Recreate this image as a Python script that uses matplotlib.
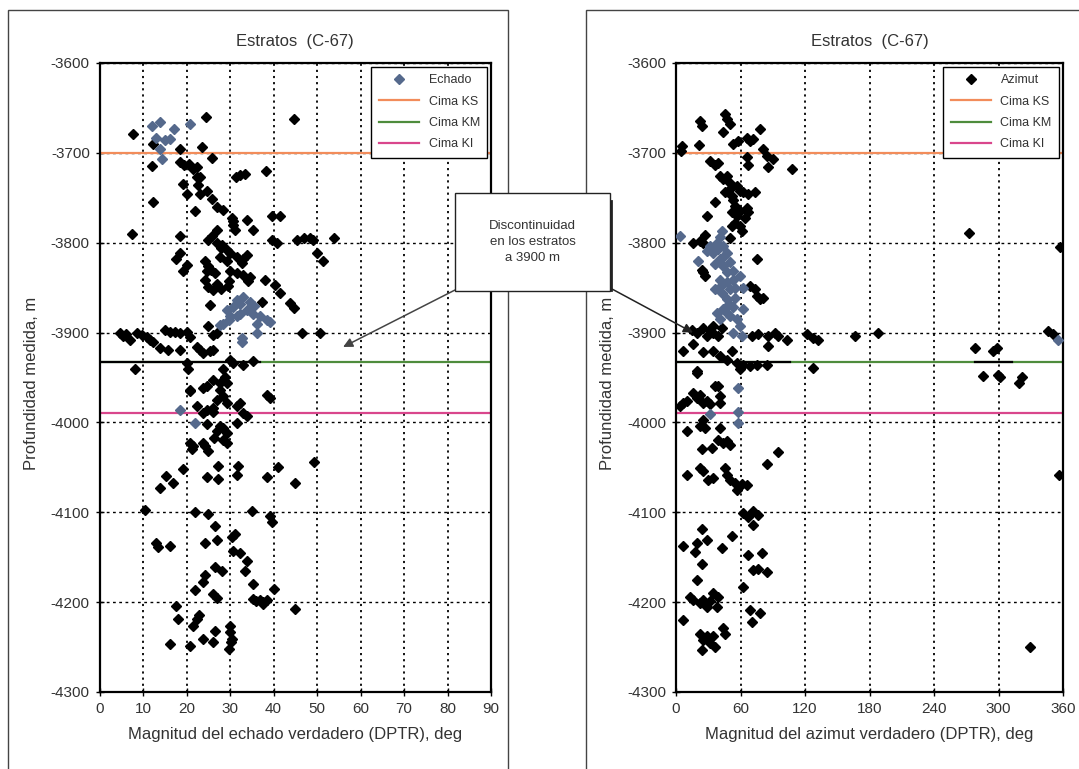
import matplotlib
matplotlib.use("Agg")
import matplotlib.pyplot as plt
from matplotlib.lines import Line2D
from matplotlib.patches import Rectangle

plt.rcParams["font.family"] = ["Liberation Sans", "DejaVu Sans"]
plt.rcParams["axes.unicode_minus"] = False

TEXT = "#333333"
BLUE = "#55698c"
KS_COLOR = "#f28c5a"
KM_COLOR = "#4e8c3c"
KI_COLOR = "#d9468c"

# Formation tops (m)
tops_names = ["Cima KS", "Cima KM", "Cima KI"]
tops_depth = [-3700, -3933, -3990]

# ---------------------------------------------------------------------------
# Dip magnitude (deg) vs measured depth (m)
# ---------------------------------------------------------------------------
dip_hl_x = [12.0, 13.9, 17.1, 13.1, 15.1, 16.2, 13.9, 14.3, 20.8,
            29.2, 30.8, 32.3, 33.1, 34.6, 33.8, 35.4, 36.9, 38.4, 39.2, 30.0,
            28.5, 27.7, 31.5, 32.3, 36.1, 32.7, 32.7, 36.1, 35.5, 31.5, 29.8,
            18.5, 22.0]
dip_hl_y = [-3670, -3666, -3673, -3683, -3686, -3685, -3696, -3707, -3668,
            -3875, -3871, -3868, -3860, -3866, -3875, -3879, -3882, -3886, -3888, -3882,
            -3890, -3892, -3882, -3879, -3890, -3906, -3910, -3900, -3870, -3864, -3886,
            -3986, -4001]

dip_x = [7.7, 12.4, 24.5, 23.5, 18.5, 25.8, 12.0, 18.5, 19.5, 20.5, 21.5, 22.4,
         23.1, 31.3, 32.3, 33.4, 38.2, 44.6,
         12.4, 7.4, 19.3, 20.0, 22.3, 22.7, 23.1, 24.6, 25.8, 26.9, 28.5, 22.0,
         30.4, 30.8, 31.1, 30.6, 33.8, 35.4, 39.6, 41.5, 26.9, 25.0, 25.8, 18.5,
         18.5, 17.7, 20.0, 19.3,
         26.9, 28.1, 29.2, 28.0,
         24.3, 25.0, 25.6, 26.6, 24.8,
         30.0, 31.5, 33.8, 32.7, 33.0,
         27.7, 29.2, 30.0,
         31.5, 33.0, 34.6, 34.2,
         24.3, 25.0, 26.0, 27.0, 28.0, 29.5, 29.8,
         38.0, 40.3, 41.5, 43.8, 44.6,
         25.4, 37.3,
         49.9, 51.4, 45.3, 46.9, 48.4, 49.1, 53.8,
         39.6, 40.7,
         4.7, 5.5, 6.2, 7.0, 8.6, 9.7, 10.9, 11.6, 12.4, 13.9, 15.8, 18.5,
         15.1, 16.2, 17.4, 18.5, 20.0, 20.8,
         22.3, 23.1, 23.9, 25.4, 26.2, 25.0, 26.2, 26.9,
         46.5, 50.7, 8.2,
         20.0, 20.4, 30.8, 33.0, 35.4, 30.0, 28.5, 27.7, 29.2, 28.8, 26.2, 24.6,
         23.9, 20.8,
         38.4, 39.2, 28.5, 29.2, 31.5, 33.0, 33.8,
         22.3, 23.9, 24.6, 26.2,
         24.6, 27.7, 29.2, 28.5, 20.8, 23.9,
         27.7, 26.9, 20.8, 32.3, 26.2, 26.9, 28.5, 31.5, 26.4, 29.2,
         21.2, 21.6, 24.3, 25.0,
         19.3, 27.3, 31.9, 31.5, 41.1, 38.4, 49.2, 44.9, 24.6, 27.3, 15.4, 17.0, 13.9,
         10.5, 22.0, 25.0, 35.0, 39.2, 39.6, 26.6,
         13.1, 13.5, 16.2, 24.3, 26.9, 31.1, 30.4, 30.8, 32.3, 33.8, 33.4, 26.6,
         28.1, 24.3, 23.9, 21.9, 35.4, 26.1, 26.9, 40.0,
         35.3, 36.0, 36.8, 37.6, 38.4, 37.6, 44.9,
         17.7, 18.1, 22.3, 21.5, 22.8, 16.2, 20.8, 23.8, 26.2, 26.6, 30.0, 30.4,
         30.0, 29.8, 30.2]
dip_y = [-3679, -3690, -3660, -3693, -3696, -3706, -3715, -3710, -3714, -3712, -3718, -3716,
         -3727, -3727, -3725, -3723, -3720, -3662,
         -3755, -3790, -3735, -3746, -3727, -3736, -3746, -3742, -3751, -3760, -3764, -3765,
         -3772, -3780, -3786, -3776, -3775, -3786, -3770, -3770, -3786, -3797, -3792, -3792,
         -3812, -3818, -3825, -3831,
         -3800, -3802, -3808, -3806,
         -3820, -3826, -3830, -3834, -3832,
         -3812, -3816, -3814, -3823, -3818,
         -3816, -3820, -3831,
         -3834, -3836, -3838, -3843,
         -3842, -3849, -3853, -3846, -3852, -3848, -3843,
         -3842, -3847, -3856, -3867, -3873,
         -3869, -3866,
         -3812, -3820, -3797, -3795, -3795, -3797, -3795,
         -3797, -3800,
         -3900, -3904, -3902, -3908, -3901, -3903, -3905, -3908, -3910, -3917, -3919, -3919,
         -3897, -3899, -3899, -3901, -3899, -3905,
         -3916, -3919, -3923, -3921, -3919, -3893, -3903, -3901,
         -3901, -3901, -3941,
         -3934, -3941, -3934, -3936, -3932, -3930, -3941, -3956, -3956, -3949, -3953, -3960,
         -3962, -3964,
         -3969, -3973, -3971, -3978, -3982, -3990, -3993,
         -3982, -3990, -3986, -3984,
         -4002, -4004, -4012, -4019, -4023, -4023,
         -3964, -3975, -3965, -3978, -3988, -4010, -4006, -4001, -4017, -4023,
         -4030, -4026, -4026, -4032,
         -4052, -4048, -4049, -4058, -4050, -4061, -4044, -4067, -4061, -4063, -4060, -4067, -4073,
         -4097, -4100, -4102, -4099, -4104, -4111, -4115,
         -4134, -4139, -4137, -4134, -4131, -4124, -4128, -4143, -4145, -4154, -4165, -4161,
         -4165, -4170, -4178, -4187, -4180, -4191, -4195, -4185,
         -4197, -4199, -4198, -4200, -4198, -4202, -4208,
         -4204, -4219, -4219, -4226, -4214, -4247, -4249, -4241, -4244, -4232, -4233, -4241,
         -4226, -4252, -4244]

# ---------------------------------------------------------------------------
# Azimuth (deg) vs measured depth (m)
# ---------------------------------------------------------------------------
azi_hl_x = [3.7, 42.5, 40.9, 37.8, 31.6, 28.6, 34.7, 39.4, 44.0, 47.1, 40.9, 36.3,
            44.0, 50.2, 47.1, 53.3, 40.9, 47.1, 53.3, 59.5, 36.3, 42.5, 50.2, 54.9,
            47.1, 53.3, 44.0, 37.8, 50.2, 56.5, 59.5, 53.3, 61.1, 40.9, 47.1, 20.8,
            62.6, 62.6, 45.0, 49.0, 55.0, 43.0,
            58.0, 58.0, 58.0, 31.6, 355.6]
azi_hl_y = [-3793, -3787, -3794, -3800, -3804, -3809, -3811, -3807, -3804, -3811, -3818, -3824,
            -3826, -3822, -3833, -3832, -3841, -3844, -3841, -3837, -3852, -3856, -3852, -3850,
            -3863, -3871, -3874, -3878, -3882, -3885, -3893, -3900, -3904, -3885, -3878, -3820,
            -3850, -3874, -3815, -3868, -3862, -3847,
            -3962, -3988, -4001, -3991, -3908]

azi_x = [5.3, 4.6, 21.7, 22.3, 23.9, 45.6, 47.1, 50.2, 44.0, 53.3, 58.0, 65.8, 68.8,
         71.9, 78.1, 65.8, 67.3, 81.2, 84.4, 90.5, 85.9, 107.6, 31.6, 36.3, 39.3,
         40.9, 44.0, 47.1, 50.2, 45.6, 50.2, 51.8, 56.5, 59.5, 62.6, 67.3, 73.5, 36.3,
         53.3, 54.9, 51.8, 56.5, 59.5, 65.8, 67.3, 64.2, 54.9, 59.5, 61.1, 51.8, 28.6,
         16.1, 22.3, 27.0, 25.4, 50.2,
         23.9, 25.4, 27.0, 75.1, 68.8, 73.5, 75.1, 78.1, 81.2,
         14.6, 19.3, 25.4, 31.6, 34.7, 39.4, 28.6, 34.7, 42.5,
         70.4, 76.6, 85.9, 92.1, 95.2, 103.0, 121.6, 127.7, 132.4, 166.5,
         6.8, 16.1, 25.4, 34.7, 40.9, 47.1, 51.8, 56.5, 62.6, 68.8, 75.1, 84.4, 59.5,
         85.9, 19.3, 127.7,
         188.2, 346.3, 351.0, 278.1, 295.2, 298.3, 285.9, 299.8, 301.4, 321.6, 319.4,
         356.6, 272.6, 357.0, 329.0,
         3.7, 6.8, 9.9, 16.1, 19.3, 22.3, 25.4, 28.6, 31.6, 19.3, 36.3, 39.3, 40.9, 40.9,
         22.3, 27.0, 25.4, 9.9, 40.9, 39.3, 44.0, 47.1, 50.2, 23.9, 33.2, 95.2, 84.4, 9.9,
         22.3, 25.4, 30.0, 34.7, 45.6, 47.1, 50.2, 54.9, 56.5, 61.1, 65.8,
         62.6, 67.3, 71.9, 76.6, 71.9, 23.9, 19.3, 28.6, 6.8, 17.7, 42.5, 51.8, 23.9, 19.3,
         67.3, 79.7, 71.9, 76.6, 84.4, 62.6,
         13.0, 16.1, 22.3, 28.6, 31.6, 34.7, 39.3, 37.8, 25.4, 6.8, 68.8, 70.4, 78.1,
         22.3, 25.4, 23.9, 31.6, 36.3, 34.7, 44.0, 45.6, 28.6]
azi_y = [-3692, -3698, -3691, -3664, -3670, -3657, -3662, -3668, -3677, -3690, -3687, -3683, -3687,
         -3685, -3674, -3705, -3713, -3696, -3703, -3707, -3716, -3718, -3709, -3713, -3711,
         -3726, -3729, -3726, -3733, -3744, -3740, -3748, -3737, -3742, -3744, -3746, -3744, -3755,
         -3752, -3759, -3766, -3770, -3765, -3761, -3766, -3772, -3778, -3781, -3787, -3781, -3770,
         -3800, -3798, -3791, -3800, -3795,
         -3830, -3833, -3837, -3818, -3848, -3852, -3859, -3863, -3861,
         -3897, -3900, -3895, -3897, -3900, -3904, -3904, -3893, -3895,
         -3904, -3902, -3904, -3900, -3904, -3908, -3902, -3906, -3908, -3904,
         -3921, -3913, -3922, -3921, -3926, -3930, -3921, -3934, -3936, -3937, -3936, -3936, -3941,
         -3915, -3943, -3939,
         -3901, -3898, -3902, -3917, -3921, -3917, -3948, -3947, -3949, -3949, -3956,
         -4058, -3789, -3805, -4250,
         -3982, -3978, -3976, -3967, -3973, -3969, -3978, -3976, -3980, -3945, -3960, -3960, -3971, -3978,
         -4004, -4006, -3997, -4010, -4006, -4019, -4023, -4021, -4025, -4030, -4028, -4033, -4046, -4059,
         -4051, -4054, -4064, -4062, -4051, -4058, -4064, -4067, -4075, -4069, -4070,
         -4101, -4105, -4099, -4103, -4114, -4119, -4134, -4131, -4138, -4144, -4140, -4126, -4157, -4175,
         -4147, -4145, -4164, -4163, -4166, -4183,
         -4194, -4198, -4201, -4205, -4199, -4190, -4194, -4205, -4198, -4220, -4209, -4222, -4212,
         -4235, -4242, -4253, -4246, -4250, -4238, -4229, -4236, -4238]

# short dark segments lying over the KM top line (x ranges)
dip_km_marks = [(0, 37)]
azi_km_marks = [(0, 106), (278, 313)]

MS = 5.0


def draw_panel(ax, xs, ys, hl_xs, hl_ys, legend_color, name, xmax, xstep, xlabel, km_marks):
    ax.set_xlim(0, xmax)
    ax.set_ylim(-4300, -3600)

    for x0, x1 in km_marks:
        ax.plot([x0, x1], [tops_depth[1]] * 2, color="black", lw=1.6, zorder=2)
    for depth, color in zip(tops_depth, [KS_COLOR, KM_COLOR, KI_COLOR]):
        ax.axhline(depth, color=color, lw=1.6, zorder=1.5)

    ax.plot(xs, ys, ls="none", marker="D", ms=MS, color="black", mec="black", zorder=3)
    ax.plot(hl_xs, hl_ys, ls="none", marker="D", ms=MS, color=BLUE, mec=BLUE, zorder=3)

    ax.set_xticks(range(0, xmax + 1, xstep))
    ax.set_yticks(range(-4300, -3599, 100))
    ax.grid(True, axis="x", color="black", ls=(0, (1.2, 2.2)), lw=1.3)
    ax.grid(True, axis="y", color="black", ls=(0, (2, 2.5)), lw=1.0)
    ax.set_axisbelow(True)
    for s in ax.spines.values():
        s.set_linewidth(1.6)
    ax.tick_params(direction="inout", length=6, width=1, labelsize=11,
                   labelcolor=TEXT, pad=4)

    ax.set_title("Estratos  (C-67)", fontsize=12, color=TEXT, pad=12)
    ax.set_xlabel(xlabel, fontsize=12, color=TEXT, labelpad=8)
    ax.set_ylabel("Profundidad medida, m", fontsize=12, color=TEXT)

    handles = [Line2D([], [], ls="none", marker="D", ms=MS, color=legend_color)]
    handles += [Line2D([], [], color=c, lw=1.6) for c in [KS_COLOR, KM_COLOR, KI_COLOR]]
    leg = ax.legend(handles, [name] + tops_names, loc="upper right", fontsize=9,
                    frameon=True, fancybox=False, framealpha=1, edgecolor="black",
                    handlelength=3.2, handletextpad=0.8, labelspacing=0.75,
                    borderpad=0.6, borderaxespad=0.3, labelcolor=TEXT)
    leg.get_frame().set_linewidth(1.0)
    leg.set_zorder(5)


fig = plt.figure(figsize=(10.79, 7.69), dpi=100)
fig.patch.set_facecolor("white")

# panel frames
fig.add_artist(Rectangle((8 / 1079, -0.05), 500 / 1079, 1.05 - 10 / 769,
                         transform=fig.transFigure, fill=False, ec="#444444", lw=1.0))
fig.add_artist(Rectangle((586 / 1079, -0.05), 0.5, 1.05 - 10 / 769,
                         transform=fig.transFigure, fill=False, ec="#444444", lw=1.0))

ax1 = fig.add_axes([99.5 / 1079, 77 / 769, 391.5 / 1079, 629 / 769])
ax2 = fig.add_axes([676 / 1079, 77 / 769, 387 / 1079, 629 / 769])

draw_panel(ax1, dip_x, dip_y, dip_hl_x, dip_hl_y, BLUE, "Echado", 90, 10,
           "Magnitud del echado verdadero (DPTR), deg", dip_km_marks)
draw_panel(ax2, azi_x, azi_y, azi_hl_x, azi_hl_y, "black", "Azimut", 360, 60,
           "Magnitud del azimut verdadero (DPTR), deg", azi_km_marks)
ax1.yaxis.set_label_coords(-0.155, 0.49)
ax2.yaxis.set_label_coords(-0.157, 0.49)
for ax in (ax1, ax2):
    ax.patch.set_alpha(0)

# callout box
bx0, by0, bx1, by1 = 455, 193, 610, 291
box = Rectangle((bx0 / 1079, 1 - by1 / 769), (bx1 - bx0) / 1079, (by1 - by0) / 769,
                transform=fig.transFigure, fc="white", ec="#222222", lw=1.0, zorder=10)
fig.add_artist(box)
fig.add_artist(Line2D([(bx1 + 1) / 1079] * 2, [1 - (by1 - 1) / 769, 1 - (by0 + 8) / 769],
                      transform=fig.transFigure, color="#222222", lw=2.0, zorder=10))
fig.text((bx0 + bx1) / 2 / 1079, 1 - 242 / 769,
         "Discontinuidad\nen los estratos\na 3900 m",
         ha="center", va="center", fontsize=9.5, color=TEXT, linespacing=1.45, zorder=11)

ax1.annotate("", xy=(56, -3916), xycoords="data",
             xytext=(bx0, 769 - by1 + 1), textcoords="figure pixels",
             arrowprops=dict(arrowstyle="-|>", color="#444444", lw=1.1,
                             mutation_scale=14, shrinkA=0, shrinkB=0),
             zorder=9)
ax2.annotate("", xy=(15.8, -3900), xycoords="data",
             xytext=(bx1 + 2, 769 - by1 + 2), textcoords="figure pixels",
             arrowprops=dict(arrowstyle="-|>", color="#222222", lw=1.1,
                             mutation_scale=14, shrinkA=0, shrinkB=0),
             zorder=9, annotation_clip=False)

fig.savefig("out.png", dpi=100, facecolor="white")
plt.close(fig)
